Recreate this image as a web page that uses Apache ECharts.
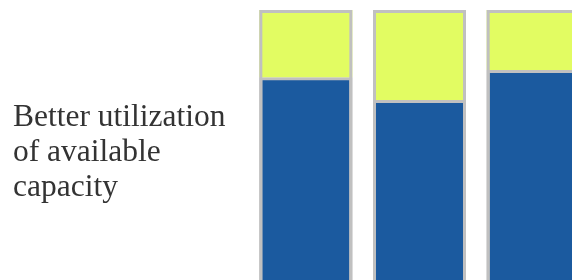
<!DOCTYPE html>
<html>
<head>
<meta charset="utf-8">
<script src="https://cdn.jsdelivr.net/npm/echarts@6/dist/echarts.min.js"></script>
<style>
  html, body { margin: 0; padding: 0; background: #fff; }
  #chart { width: 572px; height: 280px; }
</style>
</head>
<body>
<div id="chart"></div>
<script>
const categories = ['A', 'B', 'C'];
const usedValues = [76.8, 69.0, 79.3];
const spareValues = [23.2, 31.0, 20.7];
const captionLines = ['Better utilization', 'of available', 'capacity'];

(function () {
  const chart = echarts.init(document.getElementById('chart'));

  // full height outline drawn on top, so the split line stays thin
  const totals = usedValues.map((v, i) => v + spareValues[i]);

  const option = {
    animation: false,
    grid: {
      left: 249,
      top: 10,
      width: 341,
      height: 290,
      containLabel: false,
      outerBoundsMode: 'none'
    },
    xAxis: {
      type: 'category',
      data: categories,
      show: false
    },
    yAxis: {
      type: 'value',
      min: 0,
      max: 100,
      show: false
    },
    graphic: [
      {
        type: 'text',
        x: 13,
        y: 100,
        style: {
          text: captionLines.join('\n'),
          font: '31.5px "Liberation Serif", "Times New Roman", serif',
          lineHeight: 35,
          fill: '#333333'
        }
      }
    ],
    series: [
      {
        type: 'bar',
        stack: 'cap',
        data: usedValues,
        barWidth: 93,
        itemStyle: { color: '#1b5a9f', borderColor: '#c0c0c0', borderWidth: 3 }
      },
      {
        type: 'bar',
        stack: 'cap',
        data: spareValues,
        barWidth: 93,
        itemStyle: { color: '#e2fc62', borderWidth: 0 }
      },
      {
        type: 'bar',
        data: totals,
        barWidth: 93,
        barGap: '-100%',
        itemStyle: { color: 'rgba(0,0,0,0)', borderColor: '#c0c0c0', borderWidth: 3 }
      }
    ]
  };

  chart.setOption(option);
  window.addEventListener('resize', () => chart.resize());
})();
</script>
</body>
</html>
